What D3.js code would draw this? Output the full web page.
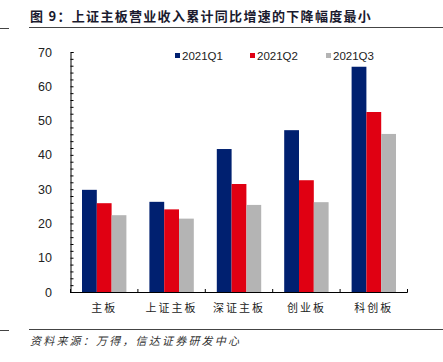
<!DOCTYPE html>
<html><head><meta charset="utf-8">
<script src="https://cdn.jsdelivr.net/npm/d3@7"></script>
<style>body{margin:0;background:#fff}svg{display:block}</style>
</head><body>
<script>
const title = "图 9：上证主板营业收入累计同比增速的下降幅度最小";
const source = "资料来源：万得，信达证券研发中心";
const categories = ["主板","上证主板","深证主板","创业板","科创板"];
const seriesNames = ["2021Q1","2021Q2","2021Q3"];
const q1 = [29.8, 26.3, 41.7, 47.2, 65.7];
const q2 = [25.9, 24.1, 31.5, 32.6, 52.5];
const q3 = [22.4, 21.4, 25.4, 26.2, 46.1];
const yTicks = [0,10,20,30,40,50,60,70];
const colors = ["#002070","#E00012","#B4B4B4"];

const W=443,H=362;
const svg=d3.select("body").append("svg").attr("width",W).attr("height",H);
const font="Arial, 'Liberation Sans', sans-serif";
const cjk="'Noto Sans CJK SC', sans-serif";

// title
svg.append("text").attr("x",30).attr("y",21).attr("font-family",cjk).attr("font-weight","bold")
  .attr("font-size",13).attr("letter-spacing",1.3).attr("fill","#1a1a2e").text(title);
svg.append("line").attr("x1",0).attr("x2",9).attr("y1",28.5).attr("y2",28.5).attr("stroke","#444").attr("stroke-width",1);
svg.append("line").attr("x1",29).attr("x2",443).attr("y1",27.5).attr("y2",27.5).attr("stroke","#444").attr("stroke-width",1);

const x0=d3.scaleBand().domain(categories).range([70.5,407.5]).paddingInner(0).paddingOuter(0);
const y=d3.scaleLinear().domain([0,70]).range([292,52]);
const series=[q1,q2,q3];
const bw=14.8;

const g=svg.append("g");
categories.forEach((c,i)=>{
  const cx=x0(c)+x0.bandwidth()/2;
  series.forEach((s,j)=>{
    g.append("rect").attr("x",cx-1.5*bw+j*bw).attr("width",bw)
      .attr("y",y(s[i])).attr("height",y(0)-y(s[i])).attr("fill",colors[j]);
  });
});

// y axis
const yAxis=d3.axisRight(y).tickValues(d3.range(0,71,2)).tickSize(3).tickFormat("");
const ya=svg.append("g").attr("transform","translate(70.5,0)").call(yAxis);
ya.select(".domain").attr("stroke","#000");
ya.selectAll("line").attr("stroke","#000");
svg.selectAll(".ylab").data(yTicks).enter().append("text")
  .attr("x",52).attr("y",d=>y(d)+4.5).attr("text-anchor","end")
  .attr("font-family",font).attr("font-size",12.5).attr("fill","#222").text(d=>d);

// x axis
svg.append("line").attr("x1",70).attr("x2",407.5).attr("y1",292.5).attr("y2",292.5).attr("stroke","#000");
const bounds=categories.map(c=>x0(c)).concat([x0.range()[1]]);
svg.selectAll(".xt").data(bounds).enter().append("line")
  .attr("x1",d=>d).attr("x2",d=>d).attr("y1",292.5).attr("y2",289).attr("stroke","#000");
svg.selectAll(".xlab").data(categories).enter().append("text")
  .attr("x",d=>x0(d)+x0.bandwidth()/2).attr("y",312).attr("text-anchor","middle")
  .attr("font-family",cjk).attr("font-size",11).attr("fill","#222").attr("letter-spacing",2).text(d=>d);

// legend
const legX=[175,250,326];
seriesNames.forEach((n,j)=>{
  svg.append("rect").attr("x",legX[j]).attr("y",53).attr("width",5).attr("height",5).attr("fill",colors[j]);
  svg.append("text").attr("x",legX[j]+7).attr("y",60).attr("font-family",font).attr("font-size",11.5)
    .attr("fill","#222").text(n);
});

// footer
svg.append("line").attr("x1",0).attr("x2",9).attr("y1",330.5).attr("y2",330.5).attr("stroke","#444");
svg.append("line").attr("x1",29).attr("x2",443).attr("y1",329.5).attr("y2",329.5).attr("stroke","#444");
svg.append("text").attr("x",30).attr("y",345).attr("font-family",cjk).attr("font-style","italic")
  .attr("font-size",11).attr("letter-spacing",2.2).attr("fill","#333").text(source);
</script>
</body></html>
